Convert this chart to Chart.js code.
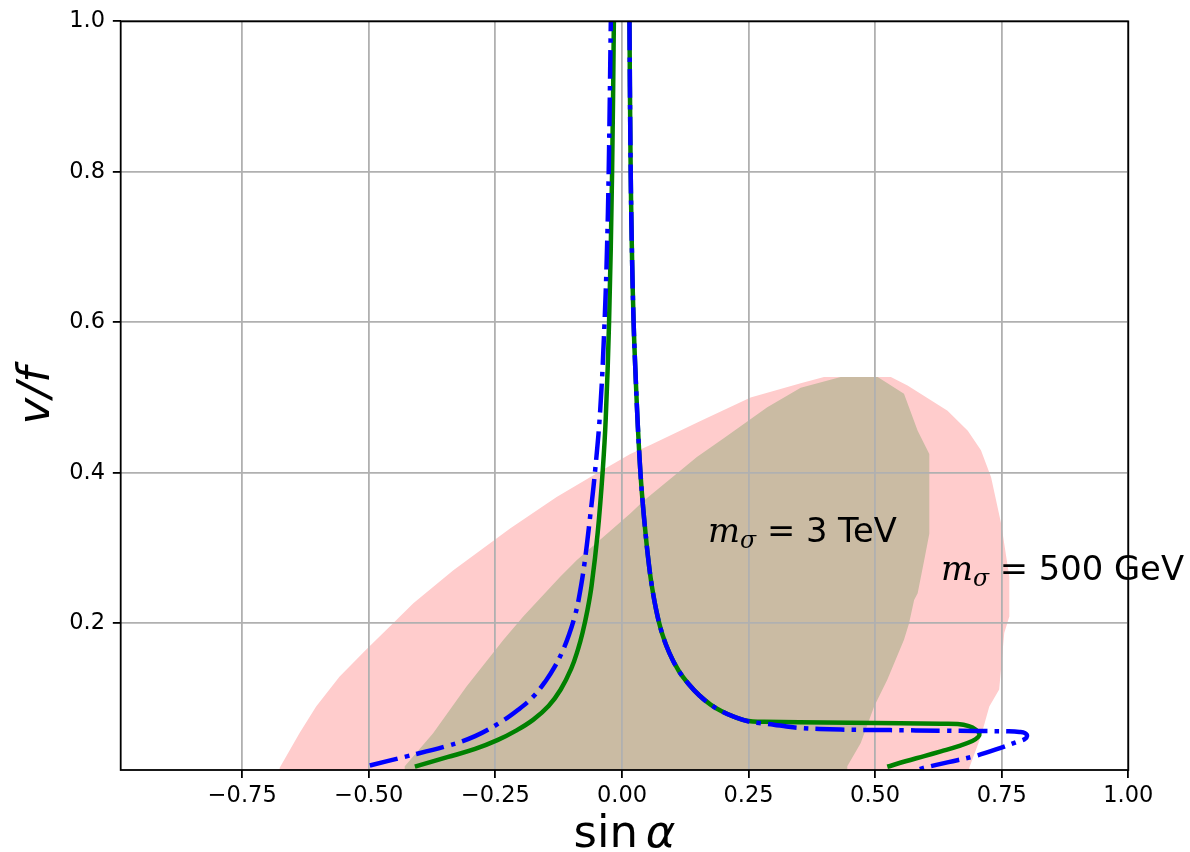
<!DOCTYPE html>
<html>
<head>
<meta charset="utf-8">
<script src="https://cdn.jsdelivr.net/npm/chart.js@4.4.1/dist/chart.umd.min.js"></script>
<style>
  html, body { margin: 0; padding: 0; background: #ffffff; }
  #wrap { width: 1190px; height: 852px; position: relative; }
</style>
</head>
<body>
<div id="wrap"><canvas id="c"></canvas></div>
<script>
// ---------------- data ----------------
const xRange = [-0.99, 1.0];
const yRange = [0.005, 1.0];
const xTicks = [-0.75, -0.5, -0.25, 0, 0.25, 0.5, 0.75, 1.0];
const xTickLabels = ['\u22120.75', '\u22120.50', '\u22120.25', '0.00', '0.25', '0.50', '0.75', '1.00'];
const yTicks = [0.2, 0.4, 0.6, 0.8, 1.0];
const yTickLabels = ['0.2', '0.4', '0.6', '0.8', '1.0'];
const xTitle = ['sin', '\u03b1'];
const yTitle = 'v/f';

// allowed region, m_sigma = 500 GeV (closed outline)
const region500GeV = [
  [-0.676, 0.005], [-0.676, 0.008], [-0.637, 0.054], [-0.604, 0.0895], [-0.558, 0.129],
  [-0.505, 0.165], [-0.452, 0.200], [-0.412, 0.2265], [-0.333, 0.2706], [-0.221, 0.326],
  [-0.129, 0.368], [-0.063, 0.394], [0.0164, 0.425], [0.056, 0.437], [0.155, 0.469],
  [0.254, 0.500], [0.353, 0.519], [0.399, 0.5275], [0.531, 0.5275], [0.564, 0.516],
  [0.643, 0.4825], [0.683, 0.456], [0.709, 0.430], [0.729, 0.394], [0.749, 0.332],
  [0.765, 0.262], [0.765, 0.209], [0.755, 0.187], [0.745, 0.112], [0.7255, 0.0895],
  [0.709, 0.050], [0.686, 0.008], [0.686, 0.005]
];
// allowed region, m_sigma = 3 TeV (closed outline)
const region3TeV = [
  [-0.429, 0.005], [-0.429, 0.010], [-0.373, 0.054], [-0.307, 0.116], [-0.234, 0.178],
  [-0.195, 0.209], [-0.122, 0.262], [-0.089, 0.284], [0.0164, 0.346], [0.043, 0.363],
  [0.148, 0.421], [0.201, 0.446], [0.287, 0.487], [0.353, 0.513], [0.432, 0.5275],
  [0.505, 0.5275], [0.557, 0.505], [0.584, 0.456], [0.607, 0.425], [0.607, 0.319],
  [0.597, 0.284], [0.584, 0.240], [0.577, 0.231], [0.567, 0.200], [0.557, 0.178],
  [0.524, 0.125], [0.498, 0.0895], [0.4716, 0.041], [0.445, 0.010], [0.445, 0.005]
];
// green solid contour
const greenLeft = [
  [-0.409, 0.0095], [-0.345, 0.022], [-0.29, 0.033], [-0.245, 0.045], [-0.21, 0.057],
  [-0.175, 0.072], [-0.145, 0.09], [-0.121, 0.112], [-0.100, 0.14], [-0.087, 0.165],
  [-0.078, 0.187], [-0.068, 0.218], [-0.060, 0.25], [-0.048, 0.32], [-0.038, 0.403],
  [-0.032, 0.473], [-0.0255, 0.60], [-0.0195, 0.80], [-0.016, 1.0]
];
const greenRight = [
  [0.0148, 1.0], [0.0168, 0.826], [0.0195, 0.70], [0.023, 0.60], [0.0275, 0.52],
  [0.0315, 0.46], [0.0362, 0.403], [0.041, 0.36], [0.0465, 0.32], [0.052, 0.285],
  [0.058, 0.254], [0.0675, 0.218], [0.079, 0.187], [0.094, 0.16], [0.112, 0.137],
  [0.132, 0.119], [0.153, 0.104], [0.175, 0.092], [0.197, 0.083], [0.222, 0.0755],
  [0.25, 0.0700], [0.28, 0.0692], [0.35, 0.0685], [0.45, 0.0679], [0.55, 0.0672],
  [0.63, 0.0665], [0.663, 0.066], [0.685, 0.0632], [0.699, 0.0585], [0.706, 0.053],
  [0.703, 0.0485], [0.692, 0.0435], [0.665, 0.0368], [0.630, 0.0298], [0.597, 0.0235],
  [0.560, 0.0166], [0.524, 0.0093]
];
// blue dash-dot contour
const blueLeft = [
  [-0.498, 0.011], [-0.429, 0.0225], [-0.345, 0.037], [-0.29, 0.05], [-0.241, 0.068],
  [-0.205, 0.085], [-0.176, 0.102], [-0.150, 0.124], [-0.133, 0.142], [-0.118, 0.162],
  [-0.105, 0.184], [-0.093, 0.21], [-0.086, 0.230], [-0.075, 0.275], [-0.063, 0.341],
  [-0.053, 0.403], [-0.043, 0.483], [-0.0344, 0.60], [-0.0297, 0.694], [-0.0262, 0.80],
  [-0.022, 1.0]
];
const blueRight = [
  [0.0148, 1.0], [0.0168, 0.826], [0.0195, 0.70], [0.023, 0.60], [0.0275, 0.52],
  [0.0315, 0.46], [0.0362, 0.403], [0.041, 0.36], [0.0465, 0.32], [0.052, 0.285],
  [0.058, 0.254], [0.0675, 0.218], [0.079, 0.187], [0.094, 0.16], [0.112, 0.137],
  [0.132, 0.119], [0.153, 0.104], [0.175, 0.092], [0.197, 0.083], [0.222, 0.0755],
  [0.25, 0.0695], [0.275, 0.0672], [0.30, 0.0652], [0.325, 0.0628], [0.346, 0.0612],
  [0.39, 0.0595], [0.432, 0.0587], [0.53, 0.058], [0.63, 0.0573], [0.70, 0.0568],
  [0.762, 0.0564], [0.785, 0.0556], [0.796, 0.0540], [0.800, 0.050], [0.795, 0.0458],
  [0.781, 0.0425], [0.748, 0.0344], [0.696, 0.0233], [0.645, 0.0155], [0.597, 0.008],
  [0.588, 0.006]
];
// annotations
const labels = [
  { x: 0.17, y: 0.30, text: ' = 3 TeV' },
  { x: 0.63, y: 0.25, text: ' = 500 GeV' }
];

// ---------------- chart ----------------
const toXY = arr => arr.map(p => ({ x: p[0], y: p[1] }));
const S = 2.25; // px per pt
const lw = 2 * S;

const decor = {
  id: 'decor',
  afterDraw(chart) {
    const { ctx, chartArea: a, scales } = chart;
    const xs = scales.x, ys = scales.y;
    ctx.save();
    // frame
    ctx.strokeStyle = '#000';
    ctx.lineWidth = 0.8 * S;
    ctx.strokeRect(a.left, a.top, a.right - a.left, a.bottom - a.top);

    // annotations
    ctx.fillStyle = '#000';
    ctx.textAlign = 'left';
    ctx.textBaseline = 'alphabetic';
    const fs = 15 * S;
    labels.forEach(l => {
      const px = xs.getPixelForValue(l.x);
      const py = ys.getPixelForValue(l.y) - 0.18 * fs;
      ctx.font = `italic ${fs}px "DejaVu Serif"`;
      ctx.fillText('m', px, py);
      let w = ctx.measureText('m').width;
      ctx.font = `italic ${fs * 0.7}px "DejaVu Serif"`;
      ctx.fillText('\u03c3', px + w, py + 0.18 * fs);
      w += ctx.measureText('\u03c3').width;
      ctx.font = `${fs}px "DejaVu Sans"`;
      ctx.fillText(l.text, px + w, py);
    });

    // x title: sin (upright) + alpha (italic)
    const tfs = 20 * S;
    ctx.font = `${tfs}px "DejaVu Sans"`;
    const w1 = ctx.measureText(xTitle[0]).width;
    const gap = tfs * 0.17;
    ctx.font = `italic ${tfs}px "DejaVu Sans"`;
    const w2 = ctx.measureText(xTitle[1]).width;
    const cx = (a.left + a.right) / 2;
    const sx = cx - (w1 + gap + w2) / 2;
    const by = 847;
    ctx.font = `${tfs}px "DejaVu Sans"`;
    ctx.fillText(xTitle[0], sx, by);
    ctx.font = `italic ${tfs}px "DejaVu Sans"`;
    ctx.fillText(xTitle[1], sx + w1 + gap, by);

    // y title
    ctx.save();
    ctx.translate(49, (a.top + a.bottom) / 2);
    ctx.rotate(-Math.PI / 2);
    ctx.textAlign = 'center';
    ctx.font = `italic ${tfs}px "DejaVu Sans"`;
    ctx.fillText(yTitle, 0, 0);
    ctx.restore();

    ctx.restore();
  }
};

const lineCommon = {
  showLine: true, pointRadius: 0, pointHoverRadius: 0, fill: false,
  borderWidth: lw, tension: 0.4, clip: 0, borderCapStyle: 'butt', borderJoinStyle: 'round'
};

new Chart(document.getElementById('c'), {
  type: 'scatter',
  data: {
    datasets: [
      { data: toXY(region500GeV), showLine: true, fill: 'shape', backgroundColor: 'rgb(255,204,204)',
        borderWidth: 0, borderColor: 'rgba(0,0,0,0)', pointRadius: 0, tension: 0, order: 6, clip: 0 },
      { data: toXY(region3TeV), showLine: true, fill: 'shape', backgroundColor: 'rgb(202,187,163)',
        borderWidth: 0, borderColor: 'rgba(0,0,0,0)', pointRadius: 0, tension: 0, order: 5, clip: 0 },
      Object.assign({ data: toXY(greenLeft), borderColor: 'rgb(0,128,0)', order: 4 }, lineCommon),
      Object.assign({ data: toXY(greenRight), borderColor: 'rgb(0,128,0)', order: 3 }, lineCommon),
      Object.assign({ data: toXY(blueLeft), borderColor: 'rgb(0,0,255)', order: 2,
        borderDash: [12.8 * S, 3.2 * S, 2 * S, 3.2 * S] }, lineCommon),
      Object.assign({ data: toXY(blueRight), borderColor: 'rgb(0,0,255)', order: 1,
        borderDash: [12.8 * S, 3.2 * S, 2 * S, 3.2 * S] }, lineCommon)
    ]
  },
  options: {
    responsive: true,
    maintainAspectRatio: false,
    animation: false,
    events: [],
    layout: { padding: { left: 0, top: 19.3, right: 61.7, bottom: 0 } },
    plugins: {
      legend: { display: false },
      tooltip: { enabled: false },
      filler: { drawTime: 'beforeDraw' }
    },
    scales: {
      x: {
        type: 'linear', min: xRange[0], max: xRange[1],
        afterBuildTicks: s => { s.ticks = xTicks.map(v => ({ value: v })); },
        afterFit: s => { s.height = 82; },
        ticks: {
          autoSkip: false, maxRotation: 0, minRotation: 0, padding: 4.5, color: '#000',
          font: { family: 'DejaVu Sans', size: 10 * S },
          callback: v => xTickLabels[xTicks.indexOf(v)]
        },
        grid: { color: '#b0b0b0', lineWidth: 0.8 * S, drawTicks: true, tickLength: 3.5 * S,
                tickColor: '#000', tickWidth: 0.8 * S },
        border: { display: false }
      },
      y: {
        type: 'linear', min: yRange[0], max: yRange[1],
        afterBuildTicks: s => { s.ticks = yTicks.map(v => ({ value: v })); },
        afterFit: s => { s.width = 120.7; },
        ticks: {
          autoSkip: false, padding: 3.5 * S, color: '#000',
          font: { family: 'DejaVu Sans', size: 10 * S },
          callback: v => yTickLabels[yTicks.indexOf(v)]
        },
        grid: { color: '#b0b0b0', lineWidth: 0.8 * S, drawTicks: true, tickLength: 3.5 * S,
                tickColor: '#000', tickWidth: 0.8 * S },
        border: { display: false }
      }
    }
  },
  plugins: [decor]
});
</script>
</body>
</html>
